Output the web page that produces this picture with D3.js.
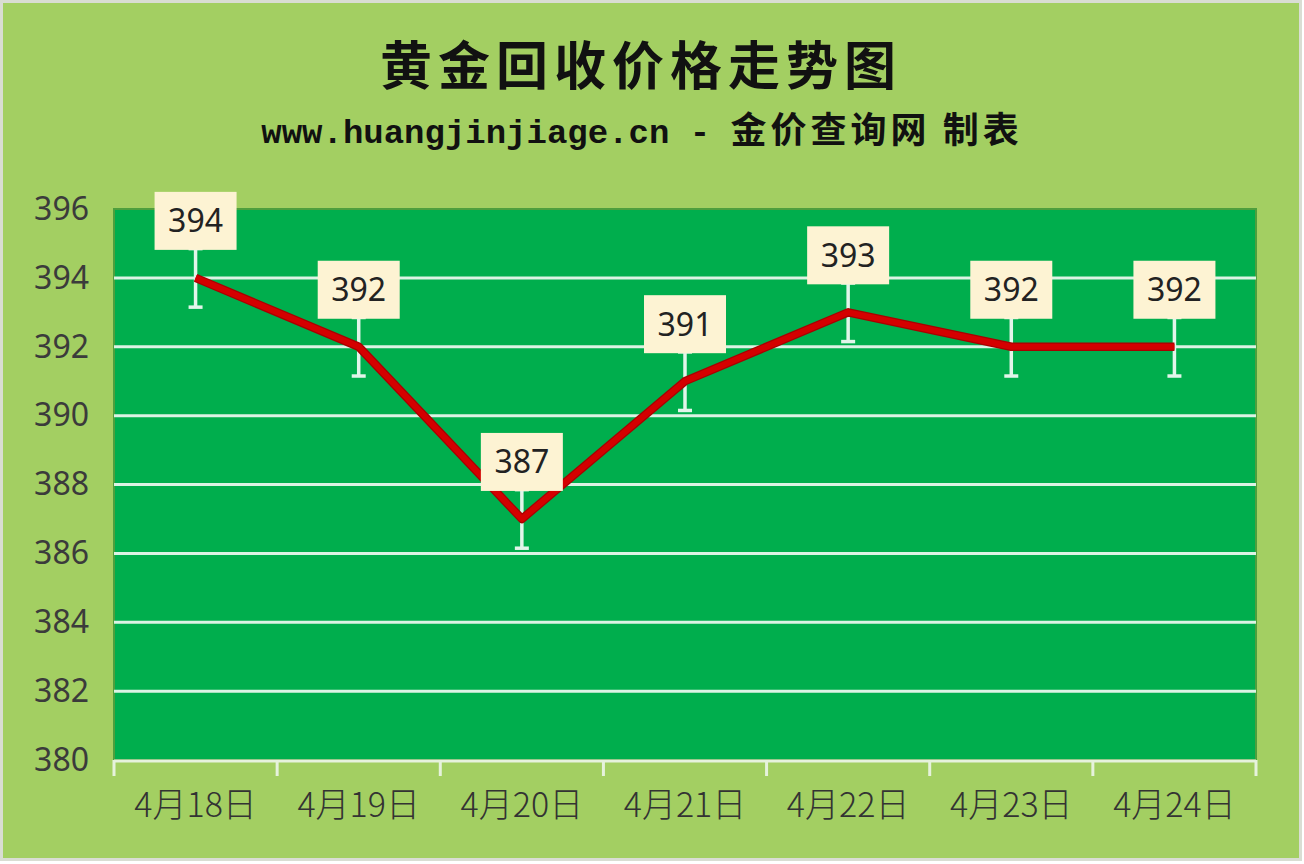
<!DOCTYPE html>
<html lang="zh">
<head>
<meta charset="UTF-8">
<title>黄金回收价格走势图</title>
<script src="https://d3js.org/d3.v7.min.js"></script>
<style>
  html, body { margin: 0; padding: 0; background: #ffffff; }
  svg { display: block; }
</style>
</head>
<body>
<div id="chart"></div>
<script>
// data
const dates = ["4月18日", "4月19日", "4月20日", "4月21日", "4月22日", "4月23日", "4月24日"];
const prices = [394, 392, 387, 391, 393, 392, 392];
const yTicks = [380, 382, 384, 386, 388, 390, 392, 394, 396];
const errorSize = 0.85;

const width = 1304, height = 864;
const plot = { left: 114, right: 1256, top: 209, bottom: 760 };

const svg = d3.select("#chart").append("svg")
    .attr("width", width)
    .attr("height", height);

// outer background
svg.append("rect")
    .attr("x", 1.5).attr("y", 1.5)
    .attr("width", width - 5).attr("height", height - 6)
    .attr("fill", "#a3cf62")
    .attr("stroke", "#d9ddd3")
    .attr("stroke-width", 3);

// titles
svg.append("text")
    .attr("x", 641).attr("y", 85)
    .attr("text-anchor", "middle")
    .style("font-family", "'Noto Sans CJK SC', sans-serif")
    .style("font-weight", 700)
    .style("font-size", "52px")
    .style("letter-spacing", "6px")
    .attr("fill", "#111")
    .text("黄金回收价格走势图");

const sub = svg.append("text")
    .attr("x", 642).attr("y", 143)
    .attr("text-anchor", "middle")
    .attr("fill", "#111");
sub.append("tspan")
    .style("font-family", "'Liberation Mono', monospace")
    .style("font-weight", 700)
    .style("font-size", "34px")
    .text("www.huangjinjiage.cn - ");
sub.append("tspan")
    .style("font-family", "'Noto Sans CJK SC', sans-serif")
    .style("font-weight", 700)
    .style("font-size", "36px")
    .style("letter-spacing", "4px")
    .text("金价查询网 制表");

// scales
const x = d3.scaleBand()
    .domain(dates)
    .range([plot.left, plot.right])
    .padding(0);

const y = d3.scaleLinear()
    .domain([380, 396])
    .range([plot.bottom, plot.top]);

const cx = d => x(d) + x.bandwidth() / 2;

// plot area
svg.append("rect")
    .attr("x", plot.left).attr("y", plot.top)
    .attr("width", plot.right - plot.left)
    .attr("height", plot.bottom - plot.top)
    .attr("fill", "#00ae4d")
    .attr("stroke", "#4e9f3d")
    .attr("stroke-width", 2);

// gridlines
svg.append("g")
    .selectAll("line")
    .data(yTicks.filter(t => t > 380 && t < 396))
    .join("line")
    .attr("x1", plot.left).attr("x2", plot.right)
    .attr("y1", d => y(d)).attr("y2", d => y(d))
    .attr("stroke", "#dcf3e4")
    .attr("stroke-width", 3);

// y axis labels
const yAxis = svg.append("g")
    .attr("transform", `translate(${plot.left - 25},0)`)
    .call(d3.axisLeft(y).tickValues(yTicks).tickSize(0).tickPadding(0));
yAxis.select(".domain").remove();
yAxis.selectAll("text")
    .style("font-family", "'Noto Sans', 'Open Sans', sans-serif")
    .style("font-size", "32px")
    .attr("fill", "#3b3b3b");

// x axis
const xAxis = svg.append("g")
    .attr("transform", `translate(0,${plot.bottom})`)
    .call(d3.axisBottom(x).tickSize(0).tickPadding(33));
xAxis.select(".domain").remove();
xAxis.selectAll("text")
    .style("font-family", "'Noto Sans CJK SC', sans-serif")
    .style("font-size", "34px")
    .style("font-weight", 300)
    .attr("fill", "#333");

svg.append("line")
    .attr("x1", plot.left).attr("x2", plot.right)
    .attr("y1", plot.bottom + 1).attr("y2", plot.bottom + 1)
    .attr("stroke", "#e6f2dc")
    .attr("stroke-width", 3);

const bounds = dates.map(d => x(d)).concat([plot.right]);
svg.append("g")
    .selectAll("line")
    .data(bounds)
    .join("line")
    .attr("x1", d => d).attr("x2", d => d)
    .attr("y1", plot.bottom).attr("y2", plot.bottom + 16)
    .attr("stroke", "#e6f2dc")
    .attr("stroke-width", 3);

// error bars
const err = svg.append("g")
    .attr("stroke", "#e2f5ea")
    .attr("stroke-width", 3.5);
dates.forEach((d, i) => {
    const v = prices[i];
    err.append("line")
        .attr("x1", cx(d)).attr("x2", cx(d))
        .attr("y1", y(v - errorSize)).attr("y2", y(v + errorSize));
    [v - errorSize, v + errorSize].forEach(e => {
        err.append("line")
            .attr("x1", cx(d) - 7).attr("x2", cx(d) + 7)
            .attr("y1", y(e)).attr("y2", y(e));
    });
});

// price line
const line = d3.line()
    .x((d, i) => cx(dates[i]))
    .y(d => y(d));

svg.append("path")
    .datum(prices)
    .attr("d", line)
    .attr("fill", "none")
    .attr("stroke", "#a80000")
    .attr("stroke-width", 8.5)
    .attr("stroke-linejoin", "round");
svg.append("path")
    .datum(prices)
    .attr("d", line)
    .attr("fill", "none")
    .attr("stroke", "#d40000")
    .attr("stroke-width", 6)
    .attr("stroke-linejoin", "round");

// data labels
const boxW = 82, boxH = 58, gap = 28;
const labels = svg.append("g")
    .selectAll("g")
    .data(prices)
    .join("g")
    .attr("transform", (d, i) => `translate(${cx(dates[i])},${y(d) - gap - boxH / 2})`);

labels.append("rect")
    .attr("x", -boxW / 2).attr("y", -boxH / 2)
    .attr("width", boxW).attr("height", boxH)
    .attr("fill", "#fdf3d3");

labels.append("text")
    .attr("text-anchor", "middle")
    .attr("dy", "0.36em")
    .style("font-family", "'Noto Sans', 'Open Sans', sans-serif")
    .style("font-size", "32px")
    .attr("fill", "#222")
    .text(d => d);
</script>
</body>
</html>
